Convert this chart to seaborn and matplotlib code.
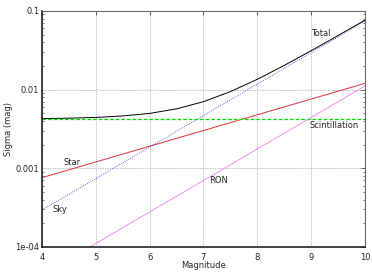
import seaborn as sns
import numpy as np
import pandas as pd
import matplotlib.pyplot as plt
from matplotlib.ticker import LogLocator, NullFormatter, FixedLocator

# straight lines (log-log): endpoint values
line_mag = [4, 10]
star = [7.6e-4, 1.2e-2]
sky = [2.95e-4, 7.4e-2]
scint = [4.2e-3, 4.2e-3]
ron_mag = [4.887, 10]
ron = [1.0e-4, 1.11e-2]

# total noise curve, read at half-magnitude steps
total_mag = [4, 4.5, 5, 5.5, 6, 6.5, 7, 7.5, 8, 8.5, 9, 9.5, 10]
total = [0.00428, 0.00433, 0.00443, 0.00462, 0.00498, 0.00569, 0.00702,
         0.00942, 0.01351, 0.02025, 0.03116, 0.04856, 0.0762]

sns.set_style("white")
plt.rcParams['font.family'] = ['DejaVu Sans']

fig = plt.figure(figsize=(3.72, 2.72), dpi=100)
ax = fig.add_axes([0.113, 0.092, 0.868, 0.868])
ax.set_axisbelow(True)

sns.lineplot(x=total_mag, y=total, ax=ax, color="black", lw=0.7)
sns.lineplot(x=line_mag, y=star, ax=ax, color="#e03030", lw=0.7)
sns.lineplot(x=line_mag, y=sky, ax=ax, color="#3030d8", lw=0.6, linestyle=(0, (1, 1.5)))
sns.lineplot(x=line_mag, y=scint, ax=ax, color="#00e000", lw=0.9, linestyle=(0, (3, 1.5)))
sns.lineplot(x=ron_mag, y=ron, ax=ax, color="#f080f0", lw=0.6)

ax.set_yscale("log")
ax.set_xlim(4, 10)
ax.set_ylim(1e-4, 0.1)
ax.set_xticks(range(4, 11))
ax.yaxis.set_major_locator(FixedLocator([1e-4, 1e-3, 1e-2, 1e-1]))
ax.set_yticklabels(["1e-04", "0.001", "0.01", "0.1"])
ax.yaxis.set_minor_locator(LogLocator(base=10, subs=np.arange(2, 10), numticks=20))
ax.yaxis.set_minor_formatter(NullFormatter())
ax.tick_params(axis="both", which="major", labelsize=6, length=3, width=0.6,
               direction="in", top=True, right=True, color="#444444")
ax.tick_params(axis="x", which="major", pad=4)
ax.tick_params(axis="y", which="major", pad=2)
ax.tick_params(axis="y", which="minor", length=1.7, width=0.5, direction="in",
               left=True, right=True, color="#444444")
ax.grid(True, which="major", color="#aaaaaa", linestyle=(0, (1.5, 1.5)), lw=0.6)

for side in ["left", "bottom"]:
    ax.spines[side].set_color("#222222")
    ax.spines[side].set_linewidth(1.2)
for side in ["top", "right"]:
    ax.spines[side].set_color("#666666")
    ax.spines[side].set_linewidth(0.8)

ax.set_xlabel("Magnitude", fontsize=6, va="center")
ax.xaxis.set_label_coords(0.5, -0.08)
ax.set_ylabel("Sigma (mag)", fontsize=6, va="center")
ax.yaxis.set_label_coords(-0.105, 0.5)

ax.text(9.0, 0.051, "Total", fontsize=6, ha="left", va="center")
ax.text(9.89, 0.0035, "Scintillation", fontsize=6, ha="right", va="center")
ax.text(4.4, 0.0012, "Star", fontsize=6, ha="left", va="center")
ax.text(4.2, 0.0003, "Sky", fontsize=6, ha="left", va="center")
ax.text(7.1, 0.00069, "RON", fontsize=6, ha="left", va="center")

fig.savefig("out.png", dpi=100)
